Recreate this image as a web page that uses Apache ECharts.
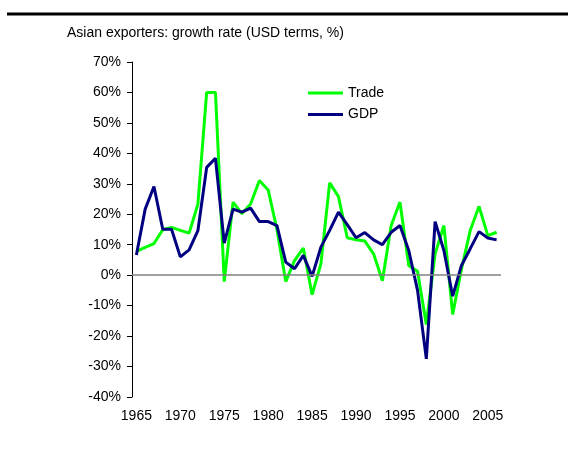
<!DOCTYPE html>
<html>
<head>
<meta charset="utf-8">
<script src="https://cdn.jsdelivr.net/npm/echarts@6/dist/echarts.min.js"></script>
<style>
  html, body { margin: 0; padding: 0; background: #fff; }
  #chart { width: 568px; height: 450px; }
</style>
</head>
<body>
<div id="chart"></div>
<script>
var years = [];
for (var y = 1965; y <= 2006; y++) years.push(String(y));

// growth rates, %
var trade = [7.8, 9.1, 10.4, 14.9, 15.7, 14.7, 13.8, 23.3, 60, 60,
    -2.1, 24.0, 20.2, 23.4, 31.1, 28.0, 15.0, -2.1, 4.8, 8.9,
    -6.4, 3.7, 30.3, 25.8, 12.3, 11.6, 11.2, 7.0, -1.8, 16.3,
    24.0, 3.2, 1.3, -16.2, 7.0, 16.3, -12.9, 2.0, 14.7, 22.6,
    13.0, 14.1];
var gdp = [6.6, 21.7, 29.1, 15.1, 15.1, 6.0, 8.3, 14.6, 35.4, 38.4,
    10.5, 21.7, 20.7, 22.0, 17.6, 17.6, 16.3, 4.3, 2.1, 6.5,
    -0.4, 9.2, 14.7, 20.7, 16.6, 12.3, 14.0, 11.6, 10.0, 14.1,
    16.3, 8.1, -5.0, -27.5, 17.6, 8.1, -6.9, 3.2, 8.7, 14.3,
    12.2, 11.6];

var font = 'Liberation Sans, Arial, sans-serif';
var lineIcon = 'path://M0,0L35,0L35,3L0,3Z';
var chart = echarts.init(document.getElementById('chart'));

chart.setOption({
    animation: false,
    backgroundColor: '#fff',
    title: {
        text: 'Asian exporters: growth rate (USD terms, %)',
        left: 62,
        top: 21,
        textStyle: { fontFamily: font, fontSize: 14, fontWeight: 'normal', color: '#000' }
    },
    graphic: [{
        type: 'line',
        shape: { x1: 7, y1: 14, x2: 568, y2: 14 },
        style: { stroke: '#000', lineWidth: 3 }
    }],
    legend: {
        orient: 'vertical',
        left: 303,
        top: 81,
        itemWidth: 35,
        itemHeight: 16,
        itemGap: 7.5,
        textStyle: { fontFamily: font, fontSize: 14, color: '#000' },
        data: [
            { name: 'Trade', icon: lineIcon },
            { name: 'GDP', icon: lineIcon }
        ]
    },
    grid: { left: 132, right: 67, top: 62, bottom: 53 },
    xAxis: {
        type: 'category',
        data: years,
        boundaryGap: true,
        axisLine: { show: false },
        axisTick: { show: false },
        axisLabel: {
            interval: 4,
            margin: 12,
            fontFamily: font,
            fontSize: 14,
            color: '#000'
        }
    },
    yAxis: {
        type: 'value',
        min: -40,
        max: 70,
        interval: 10,
        splitLine: { show: false },
        axisLine: { show: true, lineStyle: { color: '#000', width: 1 } },
        axisTick: { show: true, length: 5, lineStyle: { color: '#000' } },
        axisLabel: {
            margin: 11,
            formatter: '{value}%',
            fontFamily: font,
            fontSize: 14,
            color: '#000'
        }
    },
    series: [{
        name: 'Trade',
        type: 'line',
        data: trade,
        symbol: 'none',
        color: '#00ff00',
        lineStyle: { width: 3, color: '#00ff00' },
        markLine: {
            silent: true,
            symbol: 'none',
            label: { show: false },
            lineStyle: { color: '#808080', width: 1.5, type: 'solid' },
            data: [{ yAxis: 0 }]
        },
        z: 2
    }, {
        name: 'GDP',
        type: 'line',
        data: gdp,
        symbol: 'none',
        color: '#000080',
        lineStyle: { width: 3, color: '#000080' },
        z: 3
    }]
});
</script>
</body>
</html>
